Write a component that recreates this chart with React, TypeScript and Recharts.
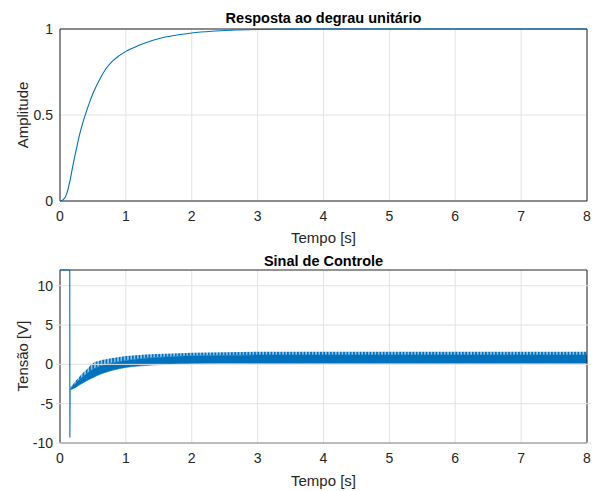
import React from "react";
import {
  ComposedChart,
  Line,
  Area,
  XAxis,
  YAxis,
  CartesianGrid,
  ReferenceArea,
  ReferenceLine,
} from "recharts";

// Step response
const stepTime = [0, 0.05, 0.1, 0.125, 0.15, 0.2, 0.25, 0.3, 0.35, 0.4, 0.45, 0.5, 0.6, 0.7, 0.8, 0.9, 1.0, 1.2, 1.4, 1.6, 1.8, 2.0, 2.3, 2.6, 3.0, 3.5, 4, 5, 6, 7, 8];
const stepAmp = [0, 0.008, 0.04, 0.074, 0.115, 0.215, 0.305, 0.39, 0.46, 0.52, 0.575, 0.625, 0.705, 0.77, 0.815, 0.845, 0.87, 0.905, 0.933, 0.953, 0.967, 0.977, 0.987, 0.993, 0.997, 0.999, 1, 1, 1, 1, 1];

// Control signal: initial saturation spike
const spikeTime = [0, 0.148, 0.15, 0.153, 0.16];
const spikeVolt = [12, 12, -9.3, -3.3, -3.1];

// Control signal: oscillating band envelopes
const bandTime = [0.16, 0.2, 0.3, 0.4, 0.5, 0.6, 0.8, 1.0, 1.3, 1.6, 2.0, 2.5, 3, 4, 5, 6, 7, 8];
const bandLow = [-3.2, -3.1, -2.6, -2.1, -1.7, -1.3, -0.75, -0.4, -0.15, 0.0, 0.12, 0.14, 0.13, 0.13, 0.13, 0.13, 0.13, 0.13];
const bandMid = [-3.0, -2.7, -1.9, -1.2, -0.6, -0.25, 0.2, 0.5, 0.78, 0.95, 1.08, 1.15, 1.2, 1.2, 1.2, 1.2, 1.2, 1.2];
const bandHigh = [-2.9, -2.5, -1.5, -0.7, 0.15, 0.45, 0.8, 1.05, 1.25, 1.35, 1.47, 1.55, 1.6, 1.6, 1.6, 1.6, 1.6, 1.6];

const xTicks = [0, 1, 2, 3, 4, 5, 6, 7, 8];
const topYTicks = [0, 0.5, 1];
const bottomYTicks = [-10, -5, 0, 5, 10];

const stepData = stepTime.map((t, i) => ({ t, y: stepAmp[i] }));

type Row = { t: number; v?: number; body?: number[]; teeth?: number[] };
const controlMap = new Map<number, Row>();
spikeTime.forEach((t, i) => controlMap.set(t, { t, v: spikeVolt[i] }));
bandTime.forEach((t, i) => {
  const row = controlMap.get(t) || { t };
  row.body = [bandLow[i], bandMid[i]];
  row.teeth = [bandMid[i], bandHigh[i]];
  controlMap.set(t, row);
});
const controlData = Array.from(controlMap.values()).sort((a, b) => a.t - b.t);

const FONT = "'Liberation Sans', Arial, Helvetica, sans-serif";
const BLUE = "#0072BD";
const AXIS = "#262626";
const GRID = "#e3e3e3";

const tickStyle = { fill: AXIS, fontSize: 14, fontFamily: FONT };

function Title({ text, y }: { text: string; y: number }) {
  return (
    <div
      style={{
        position: "absolute",
        left: 60,
        width: 527,
        top: y,
        textAlign: "center",
        fontFamily: FONT,
        fontWeight: "bold",
        fontSize: 14.5,
        color: "#000",
        lineHeight: "16px",
        zIndex: 1,
      }}
    >
      {text}
    </div>
  );
}

function Label({ text, x, y, rotate }: { text: string; x: number; y: number; rotate?: boolean }) {
  return (
    <div
      style={{
        position: "absolute",
        left: x,
        top: y,
        transform: `translate(-50%, -50%)${rotate ? " rotate(-90deg)" : ""}`,
        fontFamily: FONT,
        fontSize: 15,
        color: AXIS,
        whiteSpace: "nowrap",
        lineHeight: "16px",
        zIndex: 1,
      }}
    >
      {text}
    </div>
  );
}

export default function App() {
  return (
    <div style={{ position: "absolute", left: 0, top: 0, width: 594, height: 491, background: "#fff", overflow: "hidden" }}>
      <Title text="Resposta ao degrau unitário" y={10} />
      <Title text="Sinal de Controle" y={253} />
      <Label text="Tempo [s]" x={323.5} y={238} />
      <Label text="Tempo [s]" x={323.5} y={481} />
      <Label text="Amplitude" x={23} y={115} rotate />
      <Label text="Tensão [V]" x={23} y={356} rotate />

      <div style={{ position: "absolute", left: 0, top: 0, zIndex: 2 }}>
        <ComposedChart width={594} height={250} data={stepData} margin={{ top: 29, right: 7, bottom: 0, left: 0 }}>
          <CartesianGrid stroke={GRID} strokeWidth={1} verticalValues={xTicks} horizontalValues={topYTicks} />
          <XAxis
            dataKey="t"
            type="number"
            domain={[0, 8]}
            ticks={xTicks}
            height={49}
            tickSize={0}
            tickMargin={10}
            axisLine={false}
            tick={tickStyle}
            interval={0}
          />
          <YAxis
            type="number"
            domain={[0, 1]}
            ticks={topYTicks}
            width={60}
            tickSize={0}
            tickMargin={7}
            axisLine={false}
            tick={tickStyle}
            interval={0}
          />
          <Line type="monotone" dataKey="y" stroke={BLUE} strokeWidth={1.1} dot={false} isAnimationActive={false} />
          <ReferenceArea x1={0} x2={8} y1={0} y2={1} fill="none" stroke={AXIS} strokeWidth={1} />
        </ComposedChart>
      </div>

      <div style={{ position: "absolute", left: 0, top: 245, zIndex: 3 }}>
        <ComposedChart width={594} height={246} data={controlData} margin={{ top: 25, right: 3, bottom: 0, left: 0 }}>
          <defs>
            <pattern id="teeth" x="0" y="0" width="3.3" height="20" patternUnits="userSpaceOnUse">
              <rect x="0" y="0" width="2.1" height="20" fill={BLUE} />
              <rect x="2.1" y="0" width="1.2" height="20" fill="#9cc6e6" />
            </pattern>
          </defs>
          <CartesianGrid stroke={GRID} strokeWidth={1} verticalValues={xTicks} horizontal={false} />
          {bottomYTicks.map((v) => (
            <ReferenceLine key={v} y={v} stroke={GRID} strokeWidth={1} />
          ))}
          <XAxis
            dataKey="t"
            type="number"
            domain={[0, 8]}
            ticks={xTicks}
            height={48}
            tickSize={0}
            tickMargin={10}
            axisLine={false}
            tick={tickStyle}
            interval={0}
            padding={{ left: 4, right: 4 }}
          />
          <YAxis
            type="number"
            domain={[-10, 12]}
            ticks={bottomYTicks}
            width={56}
            tickSize={0}
            tickMargin={3}
            axisLine={false}
            tick={tickStyle}
            interval={0}
          />
          <Area type="monotone" dataKey="teeth" stroke="none" fill="url(#teeth)" fillOpacity={1} isAnimationActive={false} />
          <Area type="monotone" dataKey="body" stroke={BLUE} strokeWidth={0.5} fill={BLUE} fillOpacity={1} isAnimationActive={false} />
          <Line type="linear" dataKey="v" stroke={BLUE} strokeWidth={1.1} dot={false} isAnimationActive={false} />
          <ReferenceArea x1={0} x2={8} y1={-10} y2={12} fill="none" stroke={AXIS} strokeWidth={1} />
        </ComposedChart>
      </div>
    </div>
  );
}
